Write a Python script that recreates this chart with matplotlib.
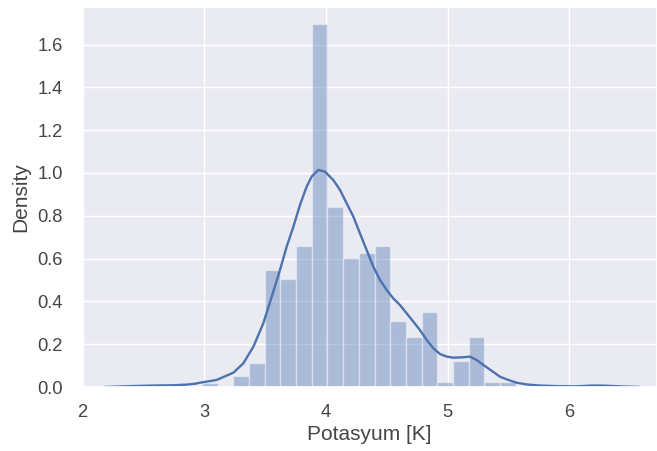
import matplotlib
matplotlib.use("Agg")
import matplotlib.pyplot as plt
import seaborn as sns

# Histogram (density)
bin_lefts = [2.980, 3.109, 3.238, 3.367, 3.496, 3.625, 3.754, 3.883, 4.012, 4.141,
             4.270, 4.399, 4.528, 4.657, 4.786, 4.915, 5.044, 5.173, 5.302, 5.431]
bin_heights = [0.020, 0.0, 0.053, 0.112, 0.547, 0.506, 0.660, 1.695, 0.841, 0.604,
               0.628, 0.660, 0.308, 0.235, 0.349, 0.022, 0.121, 0.235, 0.022, 0.022]
bin_width = 0.129

# KDE curve
kde_x = [2.18, 2.30, 2.45, 2.60, 2.75, 2.85, 2.92, 2.965, 3.102, 3.239, 3.321, 3.403,
         3.485, 3.554, 3.622, 3.677, 3.732, 3.786, 3.841, 3.882, 3.937, 3.992, 4.060,
         4.115, 4.170, 4.225, 4.279, 4.334, 4.389, 4.444, 4.499, 4.553, 4.608, 4.663,
         4.718, 4.772, 4.827, 4.882, 4.937, 4.992, 5.046, 5.128, 5.183, 5.238, 5.293,
         5.361, 5.430, 5.498, 5.567, 5.65, 5.75, 5.90, 6.05, 6.20, 6.30, 6.45, 6.58]
kde_y = [0.0, 0.002, 0.005, 0.007, 0.008, 0.011, 0.015, 0.020, 0.033, 0.067, 0.111,
         0.188, 0.298, 0.422, 0.547, 0.656, 0.749, 0.850, 0.936, 0.983, 1.014, 1.006,
         0.967, 0.921, 0.858, 0.796, 0.718, 0.640, 0.562, 0.500, 0.453, 0.414, 0.383,
         0.344, 0.305, 0.266, 0.220, 0.181, 0.154, 0.142, 0.137, 0.139, 0.142, 0.126,
         0.103, 0.076, 0.048, 0.033, 0.020, 0.012, 0.007, 0.004, 0.003, 0.007, 0.006,
         0.002, 0.0]

sns.set_theme(style="darkgrid")
plt.rcParams['font.family'] = ['Liberation Sans', 'DejaVu Sans']

fig = plt.figure(figsize=(6.57, 4.51), dpi=100)
ax = fig.add_axes([82/657, 64/451, 1 - 82/657, (387 - 6.7)/451])

color = "#4C72B0"
ax.bar(bin_lefts, bin_heights, width=bin_width, align='edge', color=color,
       alpha=0.4, edgecolor='white', linewidth=1)
ax.plot(kde_x, kde_y, color=color, linewidth=1.7)

ax.set_xlim(1.995, 6.72)
ax.set_ylim(0, 1.777)
ax.set_xticks([2, 3, 4, 5, 6])
ax.set_yticks([0.0, 0.2, 0.4, 0.6, 0.8, 1.0, 1.2, 1.4, 1.6])
txt = '0.27'
ax.set_xlabel("Potasyum [K]", fontsize=15, color=txt, labelpad=3)
ax.set_ylabel("Density", fontsize=15, color=txt, labelpad=5)
ax.tick_params(labelsize=13.2, labelcolor=txt, length=0)
ax.tick_params(axis='y', pad=14)
ax.tick_params(axis='x', pad=12)

fig.savefig("out.png", dpi=100)
